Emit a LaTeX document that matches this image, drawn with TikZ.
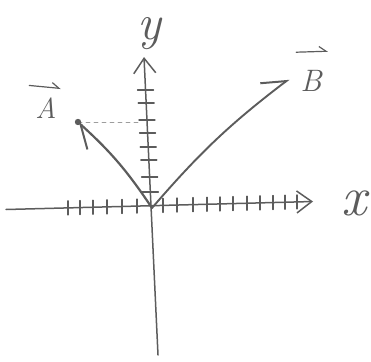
\documentclass[tikz,border=0pt]{standalone}
\usepackage{fontspec}
\usetikzlibrary{arrows.meta,calc}
\definecolor{pencil}{RGB}{92,92,92}
\begin{document}
\begin{tikzpicture}[x=1pt,y=-1pt,line cap=round,line join=round,
  axis/.style={draw=pencil,line width=1.5pt,-{Straight Barb[length=15pt,width=22pt,line width=1.5pt]}},
  tickmark/.style={draw=pencil,line width=1.3pt},
  vecline/.style={draw=pencil,line width=2.2pt,-{Straight Barb[harpoon,length=22pt,width=28pt,line width=2pt]}},
  guide/.style={draw=pencil!60,line width=0.8pt,dash pattern=on 4pt off 4pt},
  lbl/.style={text=pencil,inner sep=0pt},
  overbar/.style={draw=pencil,line width=1.2pt,-{Straight Barb[harpoon,length=7pt,width=10pt,line width=1.2pt]}}]
\useasboundingbox (0,0) rectangle (371,361);
% axes
\coordinate (O) at (152,208);
\coordinate (xl) at (6,209.5);
\coordinate (xr) at (313,201.5);
\coordinate (yb) at (158,355);
\coordinate (yt) at (144,57);
\draw[axis] (xl) -- (xr);
\draw[axis] (yb) -- (yt);
% x ticks
\foreach \t in {68,80,93,107,122,137,163,177,193,207,220,233,247,260,273,285,297}
  \draw[tickmark] ($(xl)!{(\t-6)/307}!(xr)$) ++(0,-7) -- ++(0,14);
% y ticks
\foreach \t in {90,103,120,133,147,160,177,192}
  \draw[tickmark] ($(yb)!{(355-\t)/298}!(yt)$) ++(-8,0) -- ++(16,0);
% vectors
\coordinate (Atip) at (78,122);
\coordinate (Btip) at (289,79);
\coordinate (Ayax) at (139,122);
\draw[guide] (Atip) -- (Ayax);
\draw[vecline] (O) to[bend right=7] (Atip);
\fill[pencil] (Atip) circle (3.2pt);
\draw[vecline,line width=1.9pt] (O) to[bend left=6] (Btip);
% labels
\node[lbl,font=\fontsize{29}{29}\selectfont\itshape] (A) at (46,108) {A};
\node[lbl,font=\fontsize{31}{31}\selectfont\itshape] (B) at (311,81) {B};
\node[lbl,font=\fontsize{50}{50}\selectfont\itshape] (ylab) at (149,34) {y};
\node[lbl,font=\fontsize{56}{56}\selectfont\itshape] (xlab) at (354,203) {x};
\draw[overbar] ([xshift=-6pt,yshift=12pt]A.north west) -- ([xshift=4pt,yshift=9pt]A.north east);
\draw[overbar] ([xshift=-4pt,yshift=18pt]B.north west) -- ([xshift=6pt,yshift=19pt]B.north east);
\end{tikzpicture}
\end{document}
